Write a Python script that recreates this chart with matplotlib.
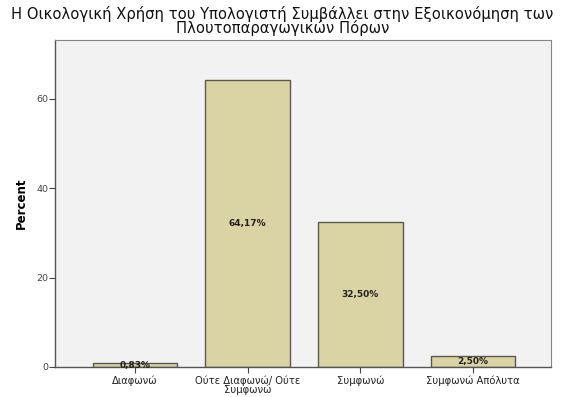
import matplotlib
matplotlib.use("Agg")
import matplotlib.pyplot as plt

categories = ["Διαφωνώ", "Ούτε Διαφωνώ/ Ούτε\nΣυμφωνώ", "Συμφωνώ", "Συμφωνώ Απόλυτα"]
values = [0.83, 64.17, 32.50, 2.50]
labels = ["0,83%", "64,17%", "32,50%", "2,50%"]
title = "Η Οικολογική Χρήση του Υπολογιστή Συμβάλλει στην Εξοικονόμηση των\nΠλουτοπαραγωγικών Πόρων"

plt.rcParams['font.family'] = ['DejaVu Sans']
fig = plt.figure(figsize=(5.65, 3.97), dpi=100)
ax = fig.add_axes([55/565, 1-367/397, 496/565, 327/397])
ax.set_facecolor('#F2F2F2')
x = list(range(len(categories)))
ax.bar(x, values, width=0.75, color='#DAD3A3', edgecolor='#5a5a50', linewidth=1.0, zorder=2)
for xi, v, lab in zip(x, values, labels):
    ax.text(xi, v/2, lab, ha='center', va='center', fontsize=6.5, fontweight='bold', color='#222222', zorder=3)
ax.set_xlim(-0.71, 3.69)
ax.set_ylim(0, 73.2)
ax.set_yticks([0, 20, 40, 60])
ax.set_xticks(x)
ax.set_xticklabels(categories, fontsize=7.2, color='#222222', linespacing=0.85)
ax.tick_params(axis='y', labelsize=6.8, labelcolor='#444444', length=4, width=0.8, color='#444444', pad=1)
ax.tick_params(axis='x', length=4, width=0.8, color='#444444', pad=2)
for s in ['left', 'bottom']:
    ax.spines[s].set_color('#555555')
    ax.spines[s].set_linewidth(1.0)
for s in ['top', 'right']:
    ax.spines[s].set_color('#888888')
    ax.spines[s].set_linewidth(0.8)
ax.set_ylabel("Percent", fontsize=8.5, fontweight='bold', labelpad=6)
fig.text(0.5, 1-21/397, title, ha='center', va='center', fontsize=10.6, linespacing=0.9, color='#111111')
fig.savefig("out.png", dpi=100)
